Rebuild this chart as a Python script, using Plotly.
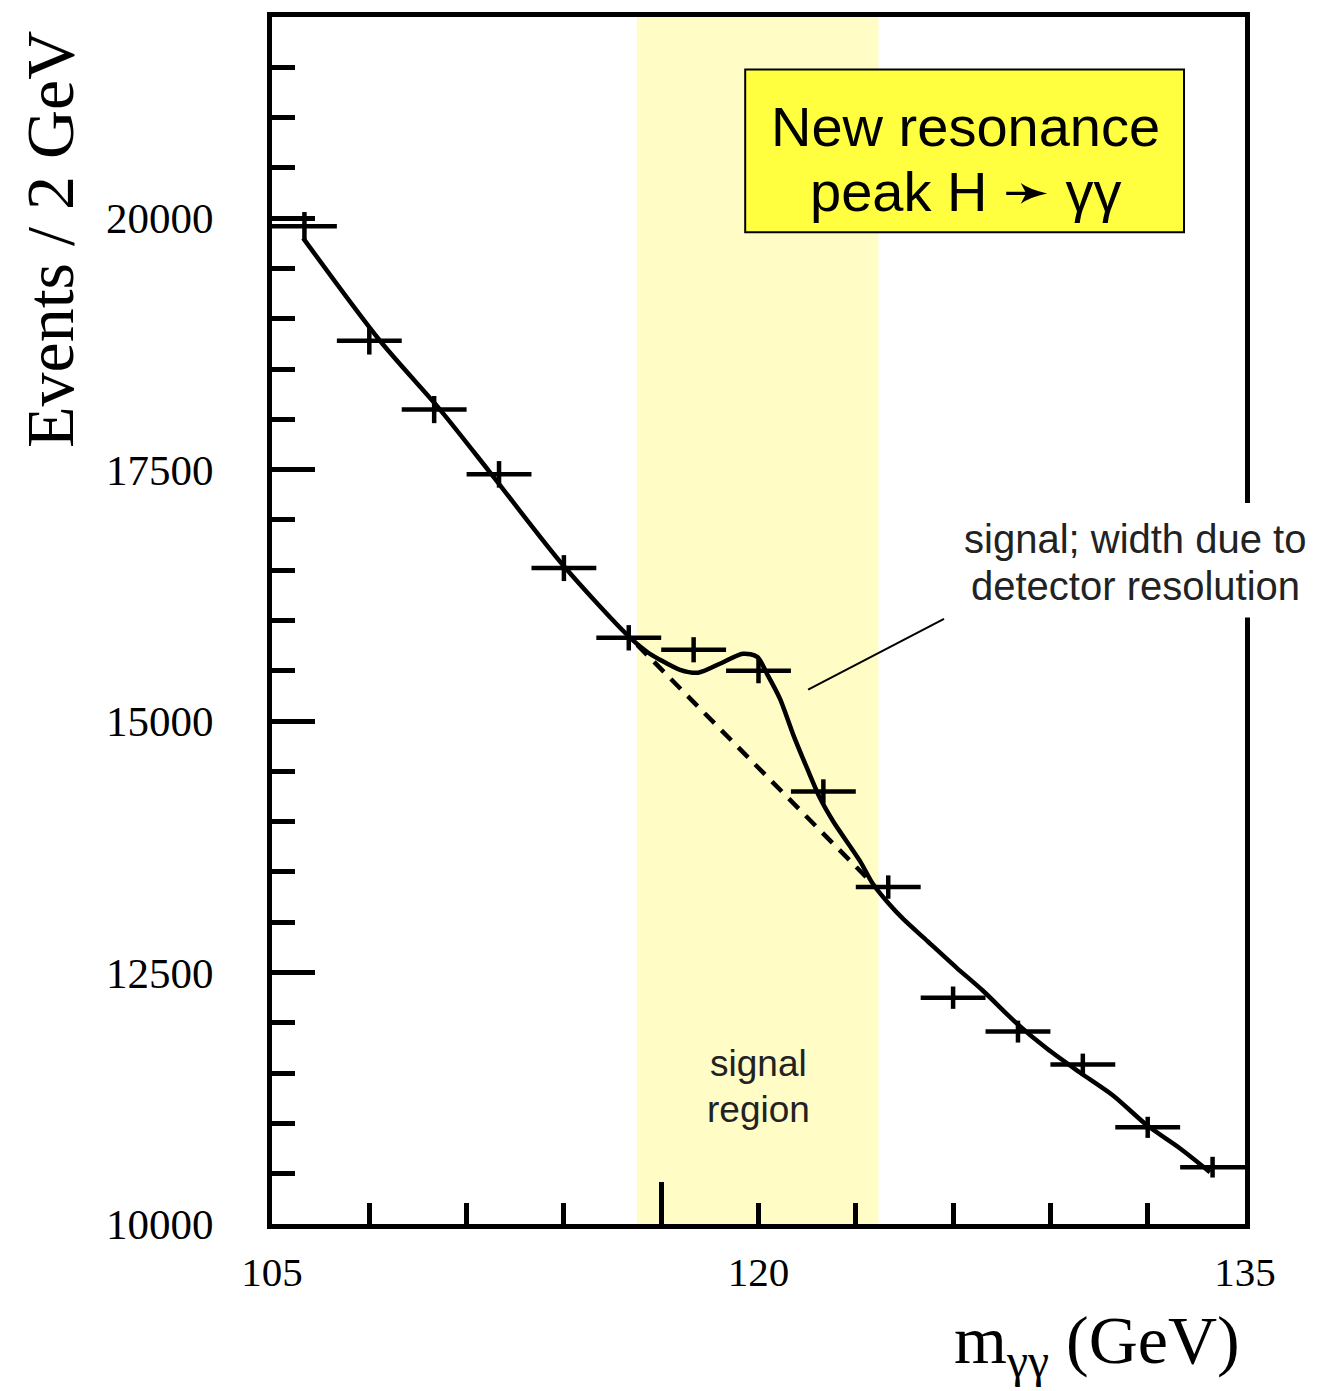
import plotly.graph_objects as go

# ---------------- data ----------------
bin_centers = [106, 108, 110, 112, 114, 116, 118, 120, 122, 124, 126, 128, 130, 132, 134]
counts = [19920, 18781, 18097, 17453, 16521, 15828, 15709, 15500, 14301, 13350,
          12250, 11913, 11586, 10961, 10565]
count_err = [141, 137, 135, 132, 129, 126, 125, 124, 120, 116, 111, 109, 108, 105, 103]
bin_halfwidth = [1, 1, 1, 1, 1, 1, 1, 1, 1, 1, 1, 1, 1, 1, 1]

fit_x = [105.96, 108.33, 110.18, 111.72, 113.97, 115.95, 116.56, 116.96, 117.58, 118.14,
         118.81, 119.52, 119.96, 120.26, 120.66, 121.07, 121.50, 121.90, 122.30, 123.13,
         123.53, 124.00, 124.46, 125.20, 126.11, 126.92, 127.97, 128.89, 129.91, 130.93,
         131.98, 132.99, 133.92]
fit_y = [19802, 18781, 18097, 17473, 16551, 15857, 15689, 15610, 15510, 15481,
         15570, 15669, 15639, 15471, 15223, 14866, 14529, 14232, 14004, 13608,
         13380, 13191, 13033, 12815, 12547, 12319, 11992, 11744, 11506, 11278,
         10981, 10753, 10515]

bkg_x = [116.26, 121.50, 123.53]
bkg_y = [15758, 14034, 13380]

signal_region = [116.25, 123.7]
x_range = [105, 135]
y_range = [10000, 22000]
x_labels = ["105", "120", "135"]
x_label_vals = [105, 120, 135]
y_label_vals = [10000, 12500, 15000, 17500, 20000]
y_labels = ["10000", "12500", "15000", "17500", "20000"]

# ---------------- layout helpers (pixel -> paper) ----------------
L, R, T, B = 272, 1245, 12, 1224
def px_x(px):
    return (px - L) / (R - L)
def px_y(py):
    return (B - py) / (B - T)

SANS = "Liberation Sans, Arial, Helvetica, sans-serif"
SERIF = "Liberation Serif, Times New Roman, serif"
LW = 4.5

fig = go.Figure()

fig.add_trace(go.Scatter(
    x=bin_centers, y=counts, mode="markers",
    marker=dict(size=1, color="rgba(0,0,0,0)"),
    error_x=dict(type="data", array=bin_halfwidth, width=0, thickness=LW, color="black"),
    error_y=dict(type="data", array=count_err, width=0, thickness=LW, color="black"),
    showlegend=False, hoverinfo="skip"))

fig.add_trace(go.Scatter(
    x=fit_x, y=fit_y, mode="lines",
    line=dict(color="black", width=LW, shape="spline", smoothing=0.8),
    showlegend=False, hoverinfo="skip"))

fig.add_trace(go.Scatter(
    x=bkg_x, y=bkg_y, mode="lines", xaxis="x2",
    line=dict(color="black", width=LW, dash="14px,10px"),
    showlegend=False, hoverinfo="skip"))

shapes = [
    dict(type="rect", xref="x", yref="paper", x0=signal_region[0], x1=signal_region[1],
         y0=0, y1=1, fillcolor="#FFFCC6", line=dict(width=0), layer="below"),
    dict(type="rect", xref="x", yref="y", x0=119.59, x1=133.12, y0=19861, y1=21477,
         fillcolor="#FFFF40", line=dict(color="black", width=2), layer="above"),
    dict(type="line", xref="x", yref="y", x0=121.53, y0=15312, x1=125.72, y1=16016,
         line=dict(color="black", width=2), layer="above"),
    dict(type="rect", xref="paper", yref="paper", x0=px_x(1225), x1=px_x(1265),
         y0=px_y(615), y1=px_y(500), fillcolor="white", line=dict(width=0), layer="above"),
]

ann = []
def txt(text, x, y, size, font=SANS, color="black", **kw):
    d = dict(text=text, x=x, y=y, xref="paper", yref="paper", showarrow=False,
             font=dict(family=font, size=size, color=color),
             xanchor="center", yanchor="middle")
    d.update(kw)
    ann.append(d)

txt("New resonance", px_x(965), px_y(122), 56)
txt("peak H ➛ γγ", px_x(966), px_y(187), 56)
txt("signal; width due to", px_x(1135), px_y(536), 40, color="#222222")
txt("detector resolution", px_x(1135), px_y(583), 40, color="#222222")
txt("signal", px_x(758), px_y(1063), 37, color="#222222")
txt("region", px_x(758), px_y(1109), 37, color="#222222")
txt("Events / 2 GeV", px_x(50), px_y(236), 68, font=SERIF, textangle=-90)
txt("m<sub>γγ</sub> (GeV)", px_x(1242), px_y(1300), 68, font=SERIF,
    xanchor="right", yanchor="top")

fig.update_layout(
    width=1318, height=1391,
    margin=dict(l=L, r=1318 - R, t=T, b=1391 - B),
    paper_bgcolor="white", plot_bgcolor="white",
    showlegend=False,
    shapes=shapes, annotations=ann,
    xaxis=dict(range=x_range, tickvals=x_label_vals, ticktext=x_labels,
               ticks="inside", ticklen=21, tickwidth=LW, tickcolor="black",
               minor=dict(dtick=3, tick0=105, ticks="inside", ticklen=21,
                          tickwidth=LW, tickcolor="black", showgrid=False),
               showline=True, linewidth=5, linecolor="black", mirror=True,
               showgrid=False, zeroline=False, ticklabelstandoff=8,
               tickfont=dict(family=SERIF, size=41, color="black")),
    xaxis2=dict(range=x_range, overlaying="x", anchor="y", side="bottom",
                tickvals=[117], ticks="inside", ticklen=42, tickwidth=LW,
                tickcolor="black", showticklabels=False, showline=False,
                showgrid=False, zeroline=False),
    yaxis=dict(range=y_range, tickvals=y_label_vals, ticktext=y_labels,
               ticks="inside", ticklen=43, tickwidth=LW, tickcolor="black",
               minor=dict(dtick=500, tick0=10000, ticks="inside", ticklen=23,
                          tickwidth=LW, tickcolor="black", showgrid=False),
               showline=True, linewidth=5, linecolor="black", mirror=True,
               showgrid=False, zeroline=False, ticklabelstandoff=45,
               tickfont=dict(family=SERIF, size=43, color="black")),
)

fig.write_html("out.html")
